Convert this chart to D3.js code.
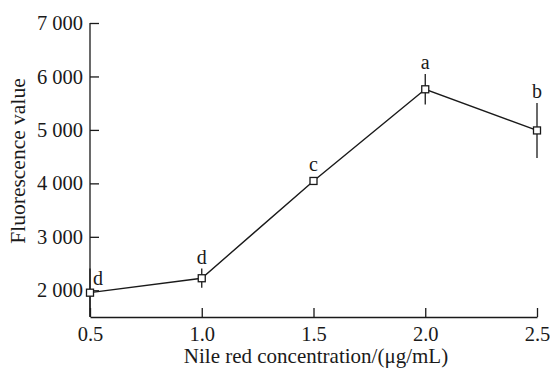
<!DOCTYPE html>
<html>
<head>
<meta charset="utf-8">
<script src="https://cdn.jsdelivr.net/npm/d3@7"></script>
<style>
  html, body { margin: 0; padding: 0; background: #fff; }
  svg { display: block; }
  text { font-family: "Liberation Serif", "Times New Roman", serif; fill: #1a1a1a; }
</style>
</head>
<body>
<svg id="chart" width="550" height="368"></svg>
<script>
// Nile red concentration (µg/mL) vs. fluorescence
const concentrations = [0.5, 1.0, 1.5, 2.0, 2.5];
const fluorescence   = [1955, 2225, 4045, 5760, 4990];
const errors         = [450, 180, 0, 285, 515];
const groups         = ["d", "d", "c", "a", "b"];
const xTicks = [0.5, 1.0, 1.5, 2.0, 2.5];
const yTicks = [2000, 3000, 4000, 5000, 6000, 7000];

const svg = d3.select("#chart");
const ink = "#1a1a1a";

const x = d3.scaleLinear().domain([0.5, 2.5]).range([90, 537]);
const y = d3.scaleLinear().domain([1500, 7000]).range([317, 23]);

const spaced = d3.formatLocale({ decimal: ".", thousands: " ", grouping: [3], currency: ["", ""] }).format(",");

// Axes with inward ticks
const yAxis = svg.append("g")
  .attr("transform", "translate(90,0)")
  .call(d3.axisLeft(y).tickValues(yTicks).tickFormat(spaced).tickSizeInner(-9).tickSizeOuter(0).tickPadding(7));
const xAxis = svg.append("g")
  .attr("transform", "translate(0,317)")
  .call(d3.axisBottom(x).tickValues(xTicks).tickFormat(d3.format(".1f")).tickSizeInner(-9).tickSizeOuter(0).tickPadding(9));

[yAxis, xAxis].forEach(g => {
  g.select(".domain").attr("stroke", ink).attr("stroke-width", 1.3);
  g.selectAll(".tick line").attr("stroke", ink).attr("stroke-width", 1.3);
  g.selectAll(".tick text").attr("font-size", 20.5).attr("fill", ink)
    .style("font-family", "'Liberation Serif', 'Times New Roman', serif");
});
yAxis.select(".domain").attr("d", `M0,${y(7000)}V${y(1500)}`);

// Axis titles
svg.append("text")
  .attr("x", 316).attr("y", 363)
  .attr("text-anchor", "middle").attr("font-size", 21)
  .text("Nile red concentration/(μg/mL)");
svg.append("text")
  .attr("transform", "translate(25,161) rotate(-90)")
  .attr("text-anchor", "middle").attr("font-size", 21.5)
  .text("Fluorescence value");

const pts = concentrations.map((c, i) => ({ c, v: fluorescence[i], e: errors[i], g: groups[i] }));

// Error bars
svg.append("g").selectAll("line").data(pts.filter(d => d.e > 0)).join("line")
  .attr("x1", d => x(d.c)).attr("x2", d => x(d.c))
  .attr("y1", d => y(d.v + d.e)).attr("y2", d => y(d.v - d.e))
  .attr("stroke", ink).attr("stroke-width", 1.3);

// Connecting line
svg.append("path").datum(pts)
  .attr("d", d3.line().x(d => x(d.c)).y(d => y(d.v)))
  .attr("fill", "none").attr("stroke", ink).attr("stroke-width", 1.4);

// Open square markers
const m = 7;
svg.append("g").selectAll("rect").data(pts).join("rect")
  .attr("x", d => x(d.c) - m / 2).attr("y", d => y(d.v) - m / 2)
  .attr("width", m).attr("height", m)
  .attr("fill", "#fff").attr("stroke", ink).attr("stroke-width", 1.3);

// Significance letters above each point
svg.append("g").selectAll("text").data(pts).join("text")
  .attr("x", (d, i) => i === 0 ? x(d.c) + 8 : x(d.c))
  .attr("y", (d, i) => i === 0 ? y(d.v) - 8 : (d.e > 0 ? y(d.v + d.e) - 5 : y(d.v) - 10))
  .attr("text-anchor", "middle").attr("font-size", 20)
  .text(d => d.g);
</script>
</body>
</html>
